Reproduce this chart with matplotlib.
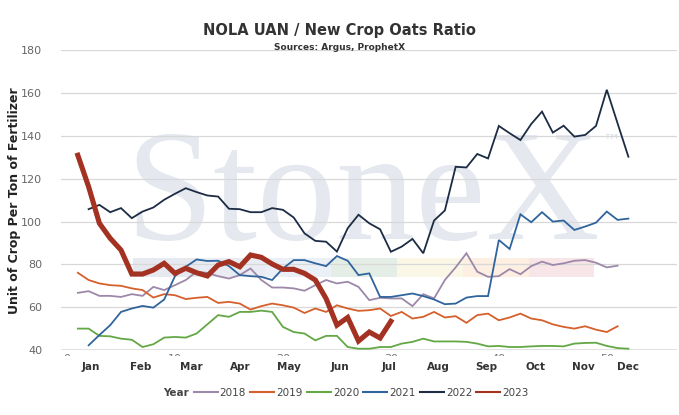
import matplotlib
matplotlib.use("Agg")
import matplotlib.pyplot as plt
import numpy as np
from matplotlib.lines import Line2D
from matplotlib.patches import Rectangle

years = ["2018", "2019", "2020", "2021", "2022", "2023"]
first_week = [1, 1, 1, 2, 2, 1]

ratio_2018 = [66.7, 67.5, 65.3, 65.3, 64.8, 66.1, 65.3, 69.5, 68.0, 70.3,
              72.7, 76.6, 76.0, 74.5, 73.4, 75.0, 78.1, 72.7, 69.2, 69.2,
              68.8, 67.7, 70.3, 72.7, 71.1, 71.9, 69.5, 63.3, 64.4, 64.1,
              64.1, 60.5, 66.1, 64.1, 72.7, 78.6, 85.2, 76.6, 74.2, 74.5,
              77.8, 75.4, 79.2, 81.3, 79.7, 80.5, 81.7, 82.0, 80.8, 78.6,
              79.4]
ratio_2019 = [76.1, 72.7, 71.1, 70.3, 70.0, 68.8, 68.0, 64.5, 66.1, 65.6,
              63.8, 64.4, 64.8, 62.0, 62.5, 61.7, 58.9, 60.5, 61.7, 60.9,
              59.8, 57.3, 59.4, 57.8, 60.9, 59.4, 58.3, 58.6, 59.4, 55.9,
              57.8, 54.7, 55.5, 57.8, 55.2, 55.8, 52.7, 56.3, 57.0, 53.9,
              55.2, 57.0, 54.7, 53.9, 52.0, 50.8, 50.0, 51.1, 49.5, 48.4,
              51.1]
ratio_2020 = [50.0, 50.0, 46.6, 46.4, 45.3, 44.8, 41.4, 42.7, 45.8, 46.1,
              45.8, 47.7, 52.0, 56.3, 55.5, 57.8, 57.8, 58.4, 57.8, 50.8,
              48.4, 47.7, 44.5, 46.6, 46.6, 41.4, 40.6, 40.6, 41.4, 41.4,
              43.0, 43.8, 45.3, 44.0, 44.0, 44.0, 43.8, 43.0, 41.7, 41.9,
              41.4, 41.4, 41.7, 41.9, 41.9, 41.7, 43.0, 43.3, 43.4, 41.9,
              40.9, 40.6]
ratio_2021 = [42.2, 47.0, 51.6, 57.8, 59.4, 60.6, 59.8, 63.6, 74.5, 78.9,
              82.3, 81.6, 81.7, 79.2, 75.0, 74.5, 74.2, 72.7, 78.1, 82.0,
              82.0, 80.5, 79.2, 83.9, 81.7, 75.0, 75.8, 64.8, 64.8, 65.6,
              66.4, 65.2, 63.6, 61.4, 61.7, 64.5, 65.2, 65.2, 91.4, 87.2,
              103.4, 99.7, 104.4, 100.0, 100.5, 96.1, 97.7, 99.5, 104.7, 100.8,
              101.4]
ratio_2022 = [105.8, 107.8, 104.4, 106.3, 101.6, 104.7, 106.6, 110.2, 113.0, 115.6,
              113.8, 112.2, 111.7, 106.0, 105.8, 104.4, 104.4, 106.3, 105.5, 101.9,
              94.5, 91.0, 90.6, 86.0, 96.9, 103.2, 99.2, 96.4, 85.9, 88.3,
              91.9, 85.2, 100.5, 105.2, 125.6, 125.3, 131.6, 129.5, 144.7, 141.3,
              138.1, 145.6, 151.4, 141.6, 144.8, 139.7, 140.5, 144.7, 161.6, 145.9,
              130.3]
ratio_2023 = [131.0, 116.3, 99.2, 92.2, 86.7, 75.5, 75.5, 77.4, 80.5, 75.8,
              78.2, 76.1, 74.6, 79.7, 81.3, 78.9, 84.4, 83.3, 80.2, 77.7,
              77.7, 75.8, 72.7, 64.0, 51.6, 55.2, 44.2, 48.4, 45.6, 53.4]

months = ["Jan", "Feb", "Mar", "Apr", "May", "Jun",
          "Jul", "Aug", "Sep", "Oct", "Nov", "Dec"]
week_ticks = [0, 10, 20, 30, 40, 50]

series = [ratio_2018, ratio_2019, ratio_2020, ratio_2021, ratio_2022, ratio_2023]
colors = ["#9d88a9", "#d5602c", "#63a845", "#30649c", "#1c2c44", "#a33222"]
widths = [1.3, 1.3, 1.3, 1.3, 1.3, 3.7]

fig = plt.figure(figsize=(6.79, 4.15), dpi=100)
ax = fig.add_axes([0.0898, 0.1566, 0.9072, 0.722])

# watermark + coloured strip
ax.text(0.49, 0.37, "StoneX", transform=ax.transAxes, ha="center",
        va="baseline", fontsize=114, family="Liberation Serif",
        color="#e5e9ef", zorder=0.2)
ax.text(0.893, 0.695, "\u2122", transform=ax.transAxes, ha="center",
        va="center", fontsize=13, color="#dde2e9", zorder=0.2)
strip_cols = ["#e6e9ef", "#e9edf3", "#ebf0f7", "#e4eee6", "#fbf7e6",
              "#fdf0e3", "#f7e5e8"]
for i, c in enumerate(strip_cols):
    ax.add_patch(Rectangle((6.15 + i * 6.1, 74.3), 6.1, 8.5, color=c,
                           lw=0, zorder=0.3))

for v in range(60, 181, 20):
    ax.axhline(v, color="#d8d8d8", lw=0.9, zorder=0.5)
ax.axhline(40, color="#dedede", lw=2.0, zorder=0.5)

for yr, vals, start, c, w in zip(years, series, first_week, colors, widths):
    wk = np.arange(start, start + len(vals))
    ax.plot(wk, vals, color=c, lw=w, zorder=2 if yr != "2023" else 3,
            solid_joinstyle="miter")

ax.set_xlim(-0.56, 56.5)
ax.set_ylim(40, 180)
for s in ax.spines.values():
    s.set_visible(False)

ax.set_yticks(range(40, 181, 20))
ax.tick_params(axis="y", length=0, labelsize=8, labelcolor="#666666", pad=13.5)
ax.set_xticks(week_ticks)
ax.set_xticklabels([str(t) for t in week_ticks])
ax.tick_params(axis="x", length=0, labelsize=8, labelcolor="#777777", pad=3)

# the week labels sit mostly hidden under the month row
fig.patches.append(Rectangle((0, 0.10), 1, 0.041, transform=fig.transFigure,
                             facecolor="white", edgecolor="none", zorder=1))

month_pos = [2.22, 6.85, 11.55, 16.02, 20.6, 25.3, 29.8, 34.4, 38.86,
             43.43, 47.8, 51.97]
for m, p in zip(months, month_pos):
    fig.text(p, -0.057, m, transform=ax.get_xaxis_transform(), ha="center",
             va="center", fontsize=7.5, fontweight="bold", color="#333333",
             zorder=2)

ax.set_ylabel("Unit of Crop Per Ton of Fertilizer", fontsize=9,
              fontweight="bold", color="#222222")
ax.yaxis.set_label_coords(-0.065, 0.5)

fig.text(0.5, 1 - 31 / 415, "NOLA UAN / New Crop Oats Ratio", ha="center",
         va="center", fontsize=10.5, fontweight="bold", color="#333333")
fig.text(0.5, 1 - 47 / 415, "Sources: Argus, ProphetX", ha="center",
         va="center", fontsize=6.5, fontweight="bold", color="#333333",
         zorder=5)

handles = [Line2D([], [], color=c, lw=1.5) for c in colors]
fig.legend(handles, years, loc="center", bbox_to_anchor=(0.532, 1 - 393 / 415),
           ncol=6, frameon=False, fontsize=7.5, handlelength=2.3,
           handletextpad=0.2, columnspacing=0.4, labelcolor="#444444")
fig.text(189 / 679, 1 - 393 / 415, "Year", ha="right", va="center",
         fontsize=7.5, fontweight="bold", color="#444444", zorder=6)

fig.savefig("out.png", dpi=100)
